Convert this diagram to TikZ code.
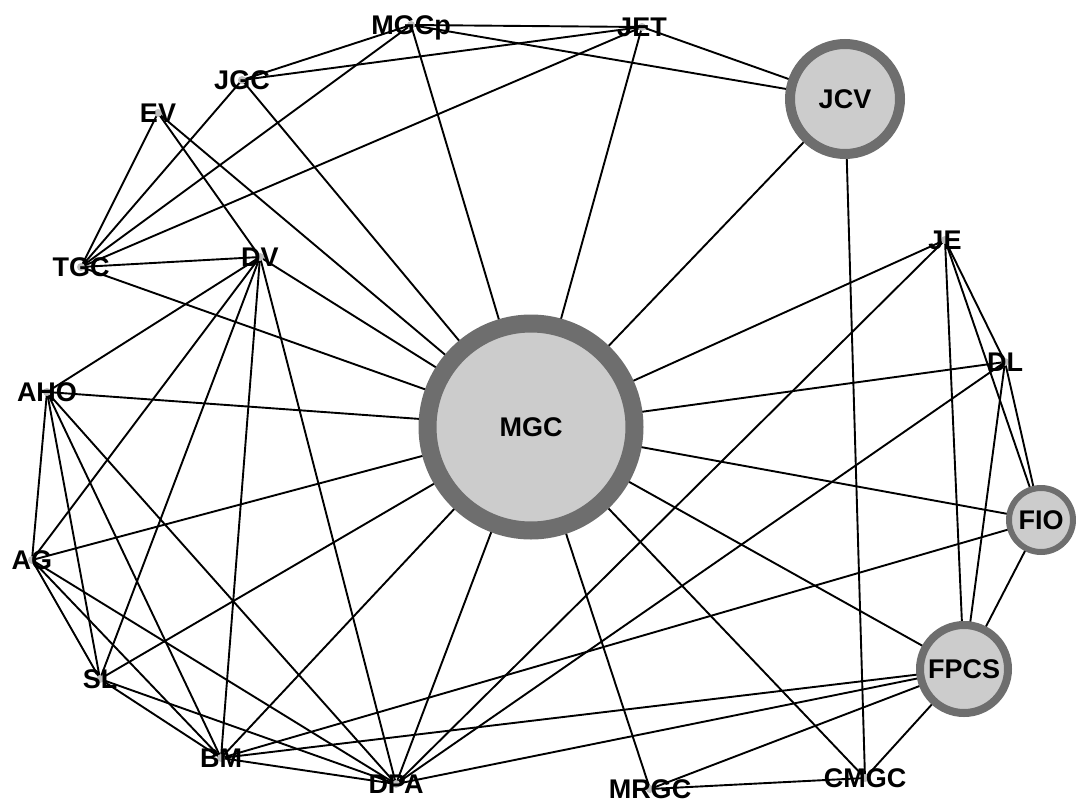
\documentclass[tikz,border=0pt]{standalone}
\usepackage{fontspec}
\setmainfont{Liberation Sans}
\pgfdeclarelayer{background}
\pgfsetlayers{background,main}
\definecolor{hubfill}{RGB}{204,204,204}
\definecolor{hubring}{RGB}{110,110,110}
\definecolor{dotgray}{RGB}{190,190,190}
\begin{document}
\begin{tikzpicture}[x=1pt,y=-1pt,
  lbl/.style={font=\fontsize{27}{30}\selectfont\bfseries, inner sep=0pt,
              text height=19.5pt, text depth=0pt, text=black},
  term/.style={circle, fill=dotgray, inner sep=0pt, minimum size=8pt,
               label={[lbl]center:#1}},
  hub/.style={circle, fill=hubfill, draw=hubring, inner sep=0pt,
              font=\fontsize{27}{30}\selectfont\bfseries},
  link/.style={line width=1.9pt, black}]
\useasboundingbox (0,0) rectangle (1076,803);

% large hubs
\node[hub, line width=18pt, minimum size=207pt] (MGC)  at (531,427) {MGC};
\node[hub, line width=10pt, minimum size=110pt] (JCV)  at (845,99)  {JCV};
\node[hub, line width=8pt,  minimum size=88pt]  (FPCS) at (964,669) {FPCS};
\node[hub, line width=6pt,  minimum size=64pt]  (FIO)  at (1041,520) {FIO};

% labelled terminals
\node[term=MGCp] (MGCp) at (411,25)  {};
\node[term=JET]  (JET)  at (642,27)  {};
\node[term=JGC]  (JGC)  at (242,80)  {};
\node[term=EV]   (EV)   at (158,113) {};
\node[term=TGC]  (TGC)  at (81,267)  {};
\node[term=DV]   (DV)   at (260,257) {};
\node[term=AHO]  (AHO)  at (47,392)  {};
\node[term=AG]   (AG)   at (32,560)  {};
\node[term=SL]   (SL)   at (100,679) {};
\node[term=BM]   (BM)   at (221,758) {};
\node[term=DPA]  (DPA)  at (396,784) {};
\node[term=MRGC] (MRGC) at (650,789) {};
\node[term=CMGC] (CMGC) at (865,778) {};
\node[term=JE]   (JE)   at (945,240) {};
\node[term=DL]   (DL)   at (1005,362) {};

\begin{pgfonlayer}{background}
\foreach \a/\b in {
  MGCp/JET, MGCp/JCV, MGCp/JGC, MGCp/TGC, MGCp/MGC,
  JET/JCV, JET/JGC, JET/TGC, JET/MGC,
  JGC/TGC, JGC/MGC,
  EV/TGC, EV/DV, EV/MGC,
  TGC/DV, TGC/MGC,
  DV/AHO, DV/AG, DV/SL, DV/BM, DV/DPA, DV/MGC,
  AHO/MGC, AHO/AG, AHO/SL, AHO/BM, AHO/DPA,
  AG/MGC, AG/SL, AG/BM, AG/DPA,
  SL/MGC, SL/BM, SL/DPA,
  BM/MGC, BM/DPA, BM/FIO, BM/FPCS,
  DPA/MGC, DPA/JE, DPA/DL, DPA/FPCS,
  MRGC/MGC, MRGC/CMGC, MRGC/FPCS,
  CMGC/MGC, CMGC/JCV, CMGC/FPCS,
  JCV/MGC,
  JE/MGC, JE/DL, JE/FIO, JE/FPCS,
  DL/MGC, DL/FIO, DL/FPCS,
  FIO/MGC, FIO/FPCS,
  FPCS/MGC}
  \draw[link] (\a.center) -- (\b.center);
\end{pgfonlayer}
\end{tikzpicture}
\end{document}
